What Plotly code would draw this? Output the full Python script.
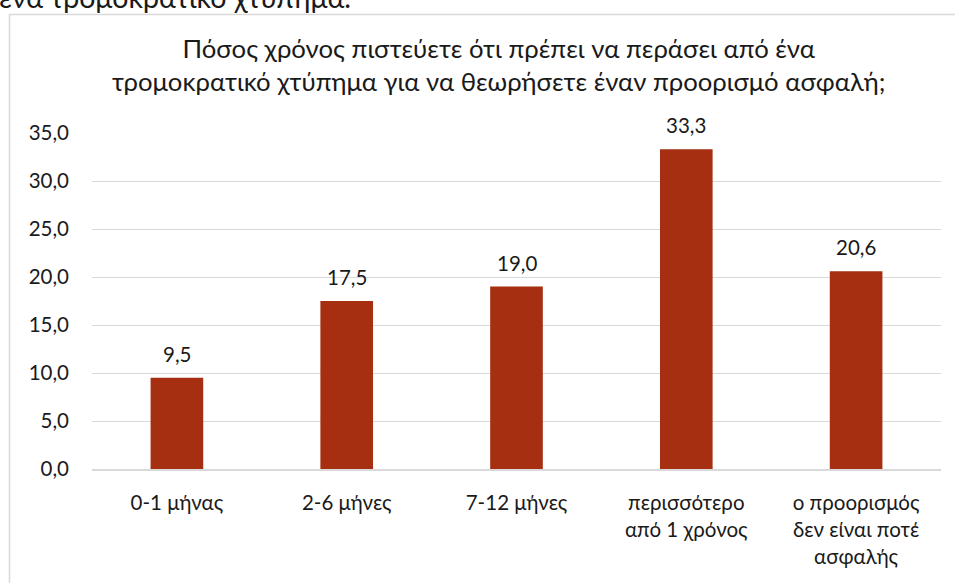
import plotly.graph_objects as go

categories = ["0-1 μήνας", "2-6 μήνες", "7-12 μήνες",
              "περισσότερο<br>από 1 χρόνος", "ο προορισμός<br>δεν είναι ποτέ<br>ασφαλής"]
values = [9.5, 17.5, 19.0, 33.3, 20.6]
y_ticks = [0, 5, 10, 15, 20, 25, 30, 35]
title_text = "Πόσος χρόνος πιστεύετε ότι πρέπει να περάσει από ένα<br>τρομοκρατικό χτύπημα για να θεωρήσετε έναν προορισμό ασφαλή;"
top_text = "ένα τρομοκρατικό χτύπημα."

FONT = "Lato, 'Open Sans', 'Noto Sans', sans-serif"
TXT = "#1a1a1a"
FS = 20.5

W, H = 955, 583
L, R, T, B = 92, 14, 133, 114
pw, ph = W - L - R, H - T - B

def px(x):
    return (x - L) / pw

def py(y):
    return (H - B - y) / ph

fig = go.Figure()
fig.add_trace(go.Bar(x=categories, y=values, marker_color="#A62F11",
                     marker_line_width=0, width=0.31))

for c, v in zip(categories, values):
    fig.add_annotation(x=c, y=v, xref="x", yref="y", text=f"{v:.1f}".replace(".", ","),
                       showarrow=False, yanchor="bottom", yshift=10,
                       font=dict(family=FONT, size=FS, color=TXT))

fig.add_annotation(x=px(498), y=py(64), xref="paper", yref="paper", text=title_text,
                   showarrow=False, xanchor="center", yanchor="middle",
                   font=dict(family=FONT, size=25.7, color=TXT))
fig.add_annotation(x=px(-3), y=py(-3), xref="paper", yref="paper", text=top_text,
                   showarrow=False, xanchor="left", yanchor="middle",
                   font=dict(family=FONT, size=28.5, color=TXT))

fig.add_shape(type="rect", xref="paper", yref="paper",
              x0=px(9.5), x1=px(1200), y0=py(14.5), y1=py(900),
              line=dict(color="#D9D9D9", width=1.5), fillcolor="rgba(0,0,0,0)", layer="below")

fig.update_layout(
    width=W, height=H,
    margin=dict(l=L, r=R, t=T, b=B, pad=0),
    paper_bgcolor="white", plot_bgcolor="white",
    separators=",.",
    showlegend=False,
    font=dict(family=FONT, size=FS, color=TXT),
)
fig.update_yaxes(range=[0, 35], tickvals=y_ticks, tickformat=".1f",
                 showgrid=True, gridcolor="#D9D9D9", gridwidth=1,
                 zeroline=False, showline=False, ticks="",
                 ticklabelstandoff=22,
                 tickfont=dict(family=FONT, size=FS, color=TXT))
fig.update_xaxes(showline=True, linecolor="#D9D9D9", linewidth=1.5, ticks="",
                 ticklabelstandoff=15,
                 tickfont=dict(family=FONT, size=FS, color=TXT))

fig.write_html("out.html")
